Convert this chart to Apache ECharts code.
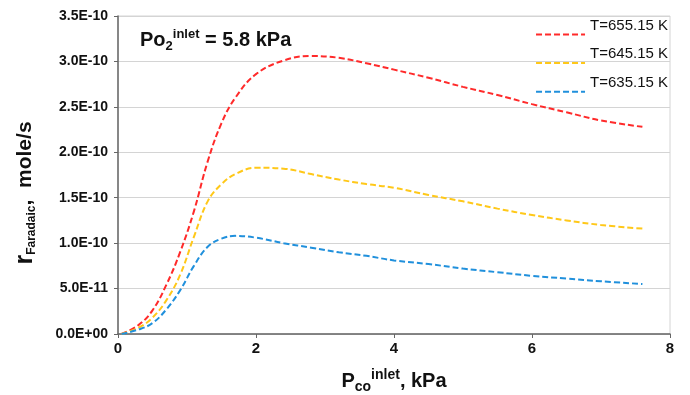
<!DOCTYPE html>
<html>
<head>
<meta charset="utf-8">
<script src="https://cdn.jsdelivr.net/npm/echarts@6/dist/echarts.min.js"></script>
<style>
  html, body { margin: 0; padding: 0; background: #fff; }
  #main { width: 690px; height: 395px; }
</style>
</head>
<body>
<div id="main"></div>
<script>
// CO inlet pressure (kPa)
var pco = [0.05, 0.3, 0.5, 0.7, 0.9, 1.1, 1.3, 1.5, 1.7, 2.0, 2.4, 2.8, 3.2, 3.6, 4.0, 4.5, 5.0, 5.5, 6.0, 6.5, 7.0, 7.6];
// faradaic rate, mole/s
var r655 = [0, 0.10e-10, 0.26e-10, 0.54e-10, 0.90e-10, 1.35e-10, 1.90e-10, 2.32e-10, 2.60e-10, 2.86e-10, 3.01e-10, 3.06e-10, 3.04e-10, 2.98e-10, 2.91e-10, 2.82e-10, 2.72e-10, 2.63e-10, 2.53e-10, 2.44e-10, 2.35e-10, 2.28e-10];
var r645 = [0, 0.07e-10, 0.18e-10, 0.37e-10, 0.65e-10, 1.07e-10, 1.46e-10, 1.65e-10, 1.76e-10, 1.83e-10, 1.82e-10, 1.76e-10, 1.70e-10, 1.65e-10, 1.61e-10, 1.53e-10, 1.46e-10, 1.38e-10, 1.31e-10, 1.25e-10, 1.20e-10, 1.16e-10];
var r635 = [0, 0.05e-10, 0.12e-10, 0.27e-10, 0.48e-10, 0.75e-10, 0.96e-10, 1.05e-10, 1.08e-10, 1.06e-10, 1.00e-10, 0.95e-10, 0.90e-10, 0.86e-10, 0.81e-10, 0.77e-10, 0.72e-10, 0.68e-10, 0.64e-10, 0.61e-10, 0.58e-10, 0.55e-10];
var seriesNames = ['T=655.15 K', 'T=645.15 K', 'T=635.15 K'];
var seriesColors = ['#ff2a2a', '#ffc819', '#2090dc'];

var FONT = '"Liberation Sans", Arial, sans-serif';

function pairs(xs, ys) {
  var out = [];
  for (var i = 0; i < xs.length; i++) out.push([xs[i], ys[i]]);
  return out;
}

// 3.5E-10 style labels
function sciLabel(v) {
  var s = Number(v).toExponential(1).toUpperCase();
  return s.replace(/E([+-])(\d)$/, 'E$10$2');
}

var myChart = echarts.init(document.getElementById('main'));

var allData = [r655, r645, r635];
var series = [];
for (var k = 0; k < 3; k++) {
  series.push({
    name: seriesNames[k],
    type: 'line',
    smooth: 0.4,
    symbol: 'none',
    data: pairs(pco, allData[k]),
    lineStyle: { color: seriesColors[k], width: 2, type: [6, 3] },
    itemStyle: { color: seriesColors[k] }
  });
}

var option = {
  backgroundColor: '#fff',
  animation: false,
  grid: {
    left: 118, right: 20, top: 16, bottom: 61,
    outerBoundsMode: 'none',
    show: true, borderColor: '#d4d4d4', borderWidth: 1
  },
  legend: {
    orient: 'vertical',
    right: 17,
    top: 13,
    itemWidth: 49,
    itemHeight: 14,
    itemGap: 6.5,
    data: seriesNames,
    itemStyle: { opacity: 0 },
    formatter: function (name) { return '{t|' + name + '}'; },
    textStyle: {
      rich: {
        t: { fontFamily: FONT, fontSize: 15, color: '#111', padding: [0, 0, 18, 0] }
      }
    }
  },
  xAxis: {
    type: 'value',
    min: 0, max: 8, interval: 2,
    axisLine: { lineStyle: { color: '#666', width: 1.5 } },
    axisTick: { show: true, length: 4, lineStyle: { color: '#666' } },
    splitLine: { show: false },
    axisLabel: { fontFamily: FONT, fontSize: 15, fontWeight: 'bold', color: '#111', margin: 7 },
    name: '{b|P}{sub|co}{sup|inlet}{b|, kPa}',
    nameLocation: 'middle',
    nameGap: 34,
    nameTextStyle: {
      rich: {
        b: { fontFamily: FONT, fontSize: 20, fontWeight: 'bold', color: '#111' },
        sub: { fontFamily: FONT, fontSize: 14, fontWeight: 'bold', color: '#111', padding: [12, 0, 0, 0] },
        sup: { fontFamily: FONT, fontSize: 14, fontWeight: 'bold', color: '#111', padding: [0, 0, 12, 0] }
      }
    }
  },
  yAxis: {
    type: 'value',
    min: 0, max: 3.5e-10, interval: 0.5e-10,
    axisLine: { show: true, lineStyle: { color: '#666', width: 1.5 } },
    axisTick: { show: true, length: 4, lineStyle: { color: '#666' } },
    splitLine: { lineStyle: { color: '#d4d4d4', width: 1 } },
    axisLabel: { fontFamily: FONT, fontSize: 14, fontWeight: 'bold', color: '#111', margin: 10, formatter: sciLabel },
    name: '{r|r}{sub|Faradaic}{b|,  mole/s}',
    nameLocation: 'middle',
    nameRotate: 90,
    nameGap: 80,
    nameTextStyle: {
      padding: [0, 36, 0, 0],
      rich: {
        r: { fontFamily: FONT, fontSize: 25, fontWeight: 'bold', color: '#111' },
        sub: { fontFamily: FONT, fontSize: 12, fontWeight: 'bold', color: '#111', padding: [12, 0, 0, 0] },
        b: { fontFamily: FONT, fontSize: 21, fontWeight: 'bold', color: '#111' }
      }
    }
  },
  graphic: [{
    type: 'text',
    left: 140,
    top: 28,
    style: {
      text: '{b|Po}{sub|2}{sup|inlet}{b| = 5.8 kPa}',
      rich: {
        b: { fontFamily: FONT, fontSize: 20, fontWeight: 'bold', fill: '#111' },
        sub: { fontFamily: FONT, fontSize: 13, fontWeight: 'bold', fill: '#111', padding: [12, 0, 0, 0] },
        sup: { fontFamily: FONT, fontSize: 13, fontWeight: 'bold', fill: '#111', padding: [0, 0, 12, 0] }
      }
    }
  }],
  series: series
};

myChart.setOption(option);
</script>
</body>
</html>
